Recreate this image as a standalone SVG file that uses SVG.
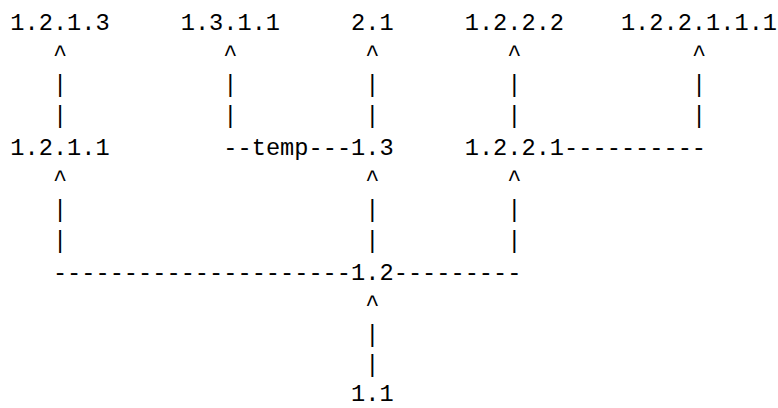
<svg xmlns="http://www.w3.org/2000/svg" width="778" height="408" viewBox="0 0 778 408">
<style>
text{font-family:"Liberation Mono","DejaVu Sans Mono",monospace;font-size:23.67px;fill:#000;}
</style>
<rect width="778" height="408" fill="#fff"/>
<g id="connectors">
<text x="52.9 223.3 365.3 507.3 691.9" y="60.75">^^^^^</text>
<text x="52.9 223.3 365.3 507.3 691.9" y="92">|||||</text>
<text x="52.9 223.3 365.3 507.3 691.9" y="123.25">|||||</text>
<text x="223.3" y="154.5">--</text>
<text x="308.5" y="154.5">---</text>
<text x="564.1" y="154.5">----------</text>
<text x="52.9 365.3 507.3" y="185.75">^^^</text>
<text x="52.9 365.3 507.3" y="217">|||</text>
<text x="52.9 365.3 507.3" y="248.25">|||</text>
<text x="52.9" y="279.5">---------------------</text>
<text x="393.7" y="279.5">---------</text>
<text x="365.3" y="310.75">^</text>
<text x="365.3" y="342">|</text>
<text x="365.3" y="372">|</text>
</g>
<g id="n1213"><text x="10.3" y="29.5">1.2.1.3</text></g>
<g id="n1311"><text x="180.7" y="29.5">1.3.1.1</text></g>
<g id="n21"><text x="351.1" y="29.5">2.1</text></g>
<g id="n1222"><text x="464.7" y="29.5">1.2.2.2</text></g>
<g id="n122111"><text x="620.9" y="29.5">1.2.2.1.1.1</text></g>
<g id="n1211"><text x="10.3" y="154.5">1.2.1.1</text></g>
<g id="ntemp"><text x="251.7" y="154.5">temp</text></g>
<g id="n13"><text x="351.1" y="154.5">1.3</text></g>
<g id="n1221"><text x="464.7" y="154.5">1.2.2.1</text></g>
<g id="n12"><text x="351.1" y="279.5">1.2</text></g>
<g id="n11"><text x="351.1" y="401">1.1</text></g>
</svg>
